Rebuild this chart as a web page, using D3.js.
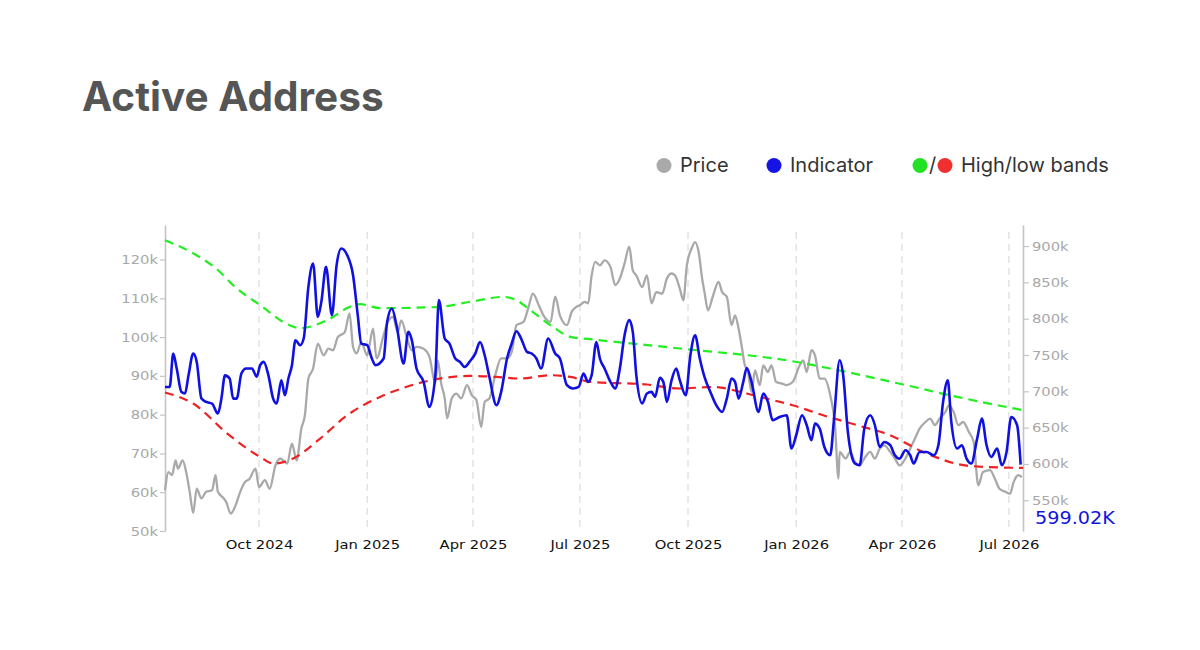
<!DOCTYPE html>
<html><head><meta charset="utf-8">
<script src="https://cdn.jsdelivr.net/npm/d3@7"></script>
<style>
html,body{margin:0;padding:0;background:#fff;}
svg{display:block;}
</style></head><body>
<svg id="chart" width="1200" height="650"></svg>
<script>
// ---------------- DATA ----------------
const chartTitle = "Active Address";
const seriesNames = ["Price", "Indicator", "High/low bands"];
const startDate = "2024-07-13";
const endDate = "2026-07-13";
const leftTicks = [50, 60, 70, 80, 90, 100, 110, 120];          // price, thousands USD
const rightTicks = [550, 600, 650, 700, 750, 800, 850, 900];    // active addresses, thousands
const lastIndicatorLabel = "599.02K";

// day offsets from startDate
const priceDays = [0,3,6,9,11,15,18,21,24,27,31,35,40,43,45,50,52,56,60,64,68,72,77,80,85,89,94,98,104,108,112,116,119,122,126,130,135,139,143,147,153,157,160,163,167,172,174,177,180,186,189,194,198,201,206,210,214,220,225,230,232,235,238,240,244,248,252,257,261,265,269,272,276,281,286,291,295,299,305,309,313,318,322,328,332,336,342,346,350,353,357,360,363,366,370,374,379,383,387,391,395,398,401,406,410,414,418,423,427,431,434,438,441,444,448,451,454,457,459,462,466,471,474,478,482,485,488,491,493,496,499,502,506,509,513,516,520,525,529,534,540,543,546,550,553,557,561,566,570,573,574,579,583,587,591,595,600,604,608,612,617,621,625,630,634,638,642,647,651,655,659,664,667,671,675,679,684,688,692,696,702,706,710,715,719,722,726,729];
const priceValues = [60.5,65.2,64.4,68.2,66.1,68.2,65.2,60.1,54.7,60.9,58.4,60.1,60.5,64.4,60.1,58.4,57.5,54.5,56.6,60.1,62.6,63.5,66.1,61.3,63.1,60.9,66.9,68.7,67.4,72.5,68.2,76.4,79.8,89.3,91.9,98.3,95.3,97.0,96.6,100.0,101.3,106.1,97.5,95.8,98.7,95.3,97.9,102.2,94.5,100.5,103.5,105.2,101.3,104.3,99.6,96.6,97.5,97.0,94.9,88.0,94.0,88.0,84.2,79.1,84.2,85.4,84.2,87.6,85.0,83.7,76.8,83.3,84.2,90.2,94.5,94.5,96.2,103.1,103.9,107.4,111.2,108.2,105.6,103.9,110.4,105.6,103.1,106.5,107.8,108.2,109.1,108.7,115.9,119.4,118.5,119.8,118.1,113.4,115.1,119.0,123.3,117.2,115.9,112.9,115.9,108.7,111.6,111.2,115.1,116.4,115.9,112.5,109.5,118.5,122.8,124.5,122.0,115.1,111.6,106.9,110.4,114.2,111.6,110.4,103.1,105.6,102.2,97.0,93.2,91.0,85.9,91.4,87.6,92.7,91.0,92.7,88.4,88.0,87.6,88.4,92.7,94.0,91.0,96.6,95.3,89.3,89.3,85.0,77.3,63.5,70.4,68.7,70.4,67.8,66.9,68.7,70.4,68.7,71.2,72.1,70.4,68.7,66.9,68.7,71.2,73.8,76.4,78.1,79.0,77.3,79.0,80.7,82.4,80.7,77.3,78.1,75.5,73.0,61.8,65.2,65.7,63.5,60.9,60.1,59.6,62.6,64.4,63.9];

const indicatorDays = [0,4,7,10,14,17,20,24,27,31,35,40,45,48,51,55,58,61,65,69,74,78,81,84,88,92,95,99,102,105,108,111,115,118,122,126,130,133,137,142,146,150,155,160,164,167,172,176,179,186,189,193,197,203,207,210,214,220,225,230,233,238,242,247,251,255,259,264,268,272,276,282,286,291,295,299,303,308,312,316,320,326,332,336,342,347,352,356,360,363,367,370,374,379,383,387,391,395,398,401,406,410,414,417,421,424,427,431,435,438,443,447,451,455,459,464,469,474,478,482,485,488,492,495,499,505,509,513,517,523,529,533,537,542,546,550,553,557,561,566,569,574,577,581,587,591,595,600,604,608,612,617,621,625,630,634,637,642,648,654,658,662,666,669,674,678,682,686,691,695,699,703,708,712,716,720,725,728];
const indicatorValues = [706,706,752,731,699,697,722,752,740.5,690,685.4,683.2,669.4,690,722,717.6,690,690,724.5,731.4,731.4,720,736,740.6,722,690,683.2,715.3,694.6,717.6,736,770.4,763.5,772.7,843.8,876,802.5,823.1,871.3,804.8,873.7,896.7,887.5,859.9,804.8,765.8,763.5,745.2,736,745.2,795.6,814,791,738.3,781.8,770.4,731.4,713,678.5,722.2,825.5,772.7,765.8,745.2,740.5,733.6,740.5,752,768,749.7,719.8,680.9,699.2,745.2,765.8,782.8,772.7,754.3,752,745.2,731.4,772.7,752,745.2,708.4,703.9,706.1,724.5,713,722.2,768,745.2,731.4,713,703.9,731.4,777.3,798,781.8,722.2,683.2,697,699.2,692.3,718.5,713,685.4,715.3,731.4,715.3,694.6,749.7,777.3,745.2,719.8,699.2,680.9,671.6,690,717.6,713,690,713,732.2,713,671.6,697,685.4,660.2,664.7,667.1,621.2,639.5,667.1,653.3,632.6,655.6,648.8,623.4,612,657.9,742.8,722.2,644,600.6,598.2,648.8,667.1,653.3,623.4,630.3,625.8,612,607.4,618.9,612,600.6,616.5,616.5,612,625.8,685.4,715.3,657.9,621.2,625.8,607.4,600.6,635,662.5,625.8,609.6,621.2,598.2,616.5,664.7,653.3,599.02];

const highBandDays = [0,24,47,58,81,106,115,138,157,166,183,231,259,288,299,311,328,345,362,438,540,566,628,674,730];
const highBandValues = [908,890,864,846,818.6,791,787,798,816,820,814.5,816,823,830,825.5,811.7,791,775,771.8,759,739.7,731.4,709.4,692.3,674];

const lowBandDays = [0,24,53,81,92,109,132,155,183,202,231,259,282,302,328,345,362,410,438,466,495,512,534,560,589,617,645,685,730];
const lowBandValues = [698.3,683.2,641.9,609.6,600.6,607.4,635,667,692.3,704.3,716.7,721.2,719.8,717.6,722.2,719.8,713,709.4,703.9,706,697,690,680.9,667,653.3,639.5,616.5,597.2,594.5];

// ---------------- CHART ----------------
const svg = d3.select("#chart");
const plot = {left: 165, right: 1023, top: 225, bottom: 531};
const AX_FONT = "'DejaVu Sans', Verdana, sans-serif";
const SX = 1.18;

const t0 = d3.utcParse("%Y-%m-%d")(startDate);
const t1 = d3.utcParse("%Y-%m-%d")(endDate);
const dayToDate = d => d3.utcDay.offset(t0, d);

const x = d3.scaleUtc().domain([t0, t1]).range([plot.left, plot.right]);
const yL = d3.scaleLinear().domain([50, 128.9]).range([plot.bottom, plot.top]);
const yR = d3.scaleLinear().domain([507.7, 929]).range([plot.bottom, plot.top]);

const zip = (days, vals) => days.map((d, i) => ({date: dayToDate(d), v: vals[i]}));
const priceData = zip(priceDays, priceValues);
const indData = zip(indicatorDays, indicatorValues);
const highData = zip(highBandDays, highBandValues);
const lowData = zip(lowBandDays, lowBandValues);

// Title
svg.append("text").attr("x", 82).attr("y", 111)
  .attr("font-family", "Inter, 'Open Sans', sans-serif").attr("font-weight", 700)
  .attr("font-size", 40.5).attr("fill", "#555").text(chartTitle);

// Legend
const lg = svg.append("g").attr("font-family", "Inter, sans-serif").attr("font-size", 20).attr("fill", "#333");
lg.append("circle").attr("cx", 664).attr("cy", 165.5).attr("r", 7.5).attr("fill", "#aaaaaa");
lg.append("text").attr("x", 680).attr("y", 172).text(seriesNames[0]);
lg.append("circle").attr("cx", 774).attr("cy", 165.5).attr("r", 7.5).attr("fill", "#1414e6");
lg.append("text").attr("x", 790).attr("y", 172).text(seriesNames[1]);
lg.append("circle").attr("cx", 920).attr("cy", 165.5).attr("r", 7.5).attr("fill", "#22e022");
lg.append("text").attr("x", 929).attr("y", 172).text("/");
lg.append("circle").attr("cx", 945).attr("cy", 165.5).attr("r", 7.5).attr("fill", "#f03030");
lg.append("text").attr("x", 961).attr("y", 172).text(seriesNames[2]);

// Vertical grid lines
const xTicks = d3.utcMonth.every(3).range(d3.utcMonth.ceil(t0), t1);
svg.append("g").selectAll("line").data(xTicks).join("line")
  .attr("x1", d => x(d)).attr("x2", d => x(d))
  .attr("y1", 232).attr("y2", plot.bottom)
  .attr("stroke", "#d4d4d4").attr("stroke-width", 1).attr("stroke-dasharray", "7,5");

// X axis labels (no domain line)
const xAxis = d3.axisBottom(x).tickValues(xTicks).tickFormat(d3.utcFormat("%b %Y")).tickSize(0).tickPadding(9);
const gx = svg.append("g").attr("transform", `translate(0,${plot.bottom})`).call(xAxis);
gx.select(".domain").remove();
gx.selectAll("text").attr("font-family", AX_FONT).attr("font-size", 12.5).attr("fill", "#111")
  .attr("transform", `scale(${SX},1)`).attr("x", 0);

// Left axis
const gl = svg.append("g").attr("transform", `translate(${plot.left},0)`)
  .call(d3.axisLeft(yL).tickValues(leftTicks).tickFormat(d => d + "k").tickSize(5).tickSizeOuter(0).tickPadding(2));
gl.select(".domain").attr("stroke", "#c4c4c4").attr("stroke-width", 1.6);
gl.selectAll(".tick line").attr("stroke", "#c4c4c4").attr("stroke-width", 1.2);
gl.selectAll("text").attr("font-family", AX_FONT).attr("font-size", 12.5).attr("fill", "#a8a8a8")
  .attr("transform", `scale(${SX},1)`).attr("x", -7 / SX);

// Right axis
const gr = svg.append("g").attr("transform", `translate(${plot.right},0)`)
  .call(d3.axisRight(yR).tickValues(rightTicks).tickFormat(d => d + "k").tickSize(6).tickSizeOuter(0).tickPadding(3));
gr.select(".domain").attr("stroke", "#c4c4c4").attr("stroke-width", 1.6);
gr.selectAll(".tick line").attr("stroke", "#c4c4c4").attr("stroke-width", 1.2);
gr.selectAll("text").attr("font-family", AX_FONT).attr("font-size", 12.5).attr("fill", "#a8a8a8")
  .attr("transform", `scale(${SX},1)`).attr("x", 9 / SX);

// Lines
const linePrice = d3.line().x(d => x(d.date)).y(d => yL(d.v)).curve(d3.curveMonotoneX);
const lineR = d3.line().x(d => x(d.date)).y(d => yR(d.v)).curve(d3.curveMonotoneX);

svg.append("path").datum(priceData).attr("d", linePrice)
  .attr("fill", "none").attr("stroke", "#a9a9a9").attr("stroke-width", 2.3).attr("stroke-linejoin", "round");
svg.append("path").datum(highData).attr("d", lineR)
  .attr("fill", "none").attr("stroke", "#22ee22").attr("stroke-width", 2.2).attr("stroke-dasharray", "9,6");
svg.append("path").datum(lowData).attr("d", lineR)
  .attr("fill", "none").attr("stroke", "#ee2222").attr("stroke-width", 2.2).attr("stroke-dasharray", "9,6");
svg.append("path").datum(indData).attr("d", lineR)
  .attr("fill", "none").attr("stroke", "#1010e0").attr("stroke-width", 2.6).attr("stroke-linejoin", "round");

// Last value label
svg.append("text").attr("x", 0).attr("y", 0)
  .attr("font-family", AX_FONT).attr("font-size", 17.3).attr("fill", "#1414e0")
  .attr("transform", `translate(1035,524) scale(1.11,1)`)
  .text(lastIndicatorLabel);
</script>
</body></html>
